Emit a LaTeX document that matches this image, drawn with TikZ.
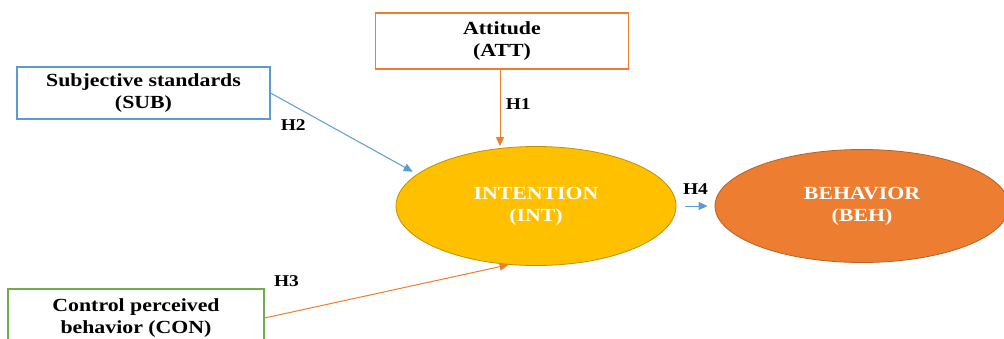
\documentclass[tikz,border=0pt]{standalone}
\usepackage{fontspec}
\setmainfont{Liberation Serif}[FakeStretch=1.18]
\usepackage{xcolor}
\usepackage{tikz}
\usetikzlibrary{shapes,arrows.meta}
\usetikzlibrary{positioning}
\definecolor{attorange}{HTML}{ED7D31}
\definecolor{subblue}{HTML}{5B9BD5}
\definecolor{congreen}{HTML}{70AD47}
\definecolor{intyellow}{HTML}{FFC000}
\definecolor{intborder}{HTML}{BF9000}
\definecolor{behborder}{HTML}{B5612A}
\tikzstyle{block} = [rectangle, draw, fill=white, line width=1.1pt,
    align=center, font=\bfseries\fontsize{18.5}{22}\selectfont]
\tikzstyle{oval} = [ellipse, draw, line width=0.8pt, text=white,
    align=center, font=\bfseries\fontsize{18.5}{22}\selectfont]
\tikzstyle{line} = [draw, line width=1pt, -{Triangle[length=9pt,width=8pt]}]
\tikzstyle{hyp} = [font=\bfseries\fontsize{16.5}{18}\selectfont]

\begin{document}
\begin{tikzpicture}[x=1pt, y=-1pt, auto]
  \clip (0,0) rectangle (1004,338);
  % Place nodes
  \node [block, draw=attorange, minimum width=253pt, minimum height=56pt] (att) at (502,41) {Attitude\\(ATT)};
  \node [block, draw=subblue, minimum width=253pt, minimum height=52pt] (sub) at (143.5,93) {Subjective standards\\(SUB)};
  \node [block, draw=congreen, minimum width=256pt, minimum height=58pt] (con) at (136,318) {Control perceived\\behavior (CON)};
  \node [oval, fill=intyellow, draw=intborder, minimum width=280pt, minimum height=119pt] (int) at (536,206) {INTENTION\\(INT)};
  \node [oval, fill=attorange, draw=behborder, minimum width=294pt, minimum height=113pt, right of=int, node distance=326pt] (beh) {BEHAVIOR\\(BEH)};

  % Hypotheses
  \path [line, attorange] (att.south -| 500,0) -- node [hyp, right=2pt, pos=0.45, black] {H1} (int.north -| 500,0);
  \path [line, subblue, shorten >=5pt] (sub.east) -- node [hyp, below=10pt, pos=0.155, black] {H2} (int.165);
  \path [line, attorange] (con.east) -- node [hyp, above=23pt, pos=0.09, black] {H3} (int.245);
  \path [line, subblue, shorten <=9pt, shorten >=7pt] (int.east) -- node [hyp, above=8pt, black] {H4} (int.east -| beh.west);
\end{tikzpicture}
\end{document}
